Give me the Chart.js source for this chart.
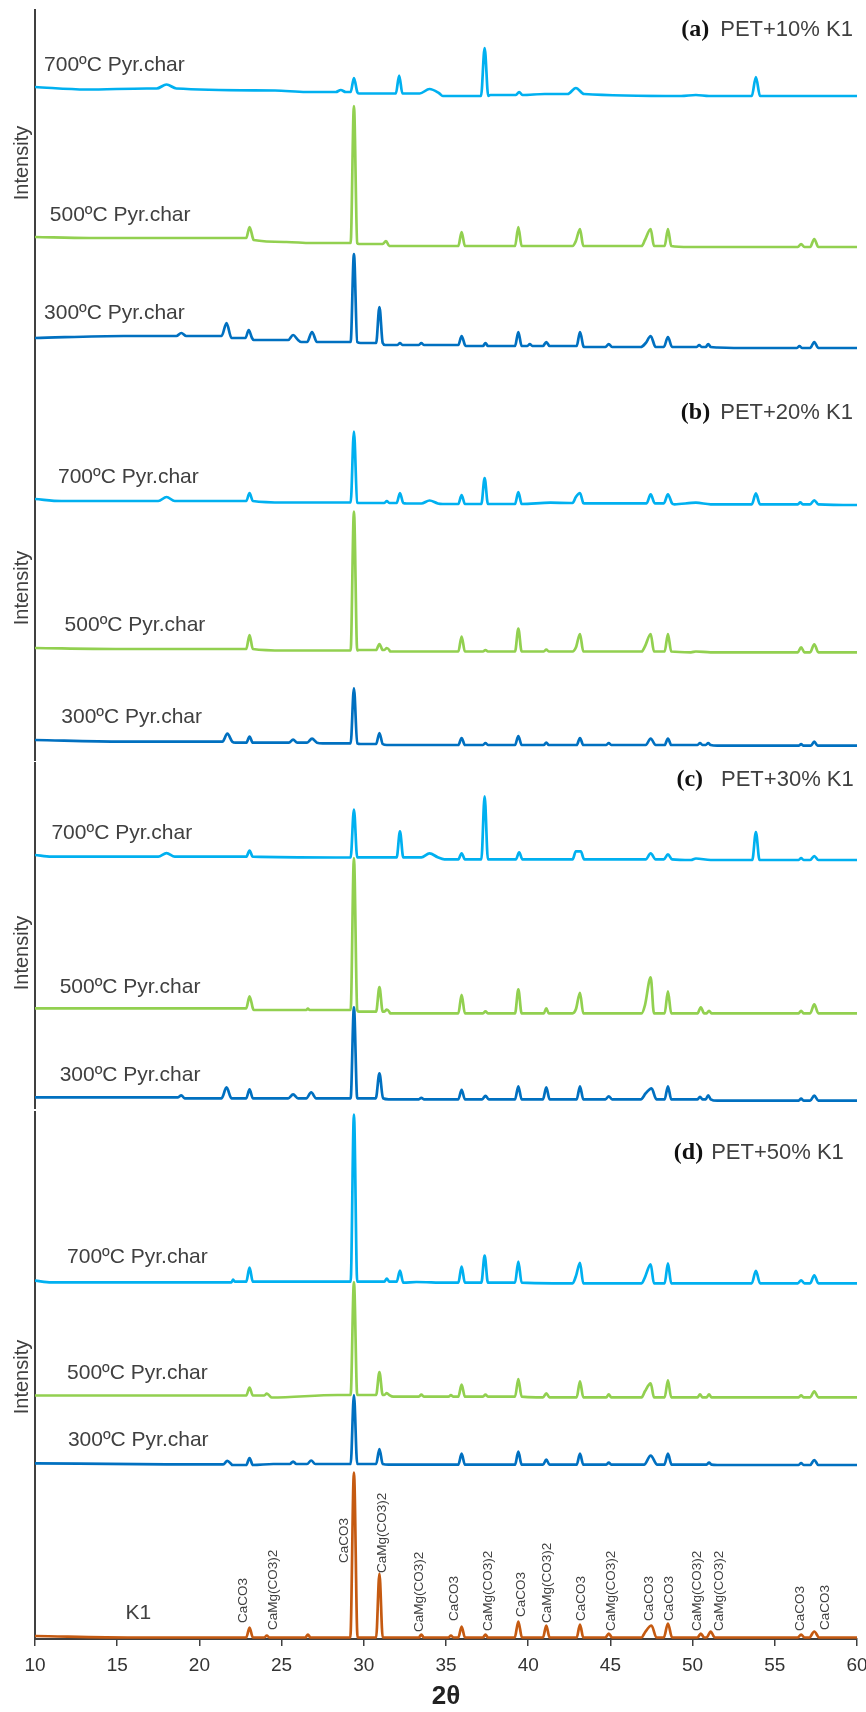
<!DOCTYPE html>
<html>
<head>
<meta charset="utf-8">
<script src="https://cdn.jsdelivr.net/npm/chart.js@4.4.0/dist/chart.umd.min.js"></script>
<style>
  body { margin: 0; background: #fff; }
  #fig { position: relative; width: 866px; height: 1712px; background: #fff; }
  #fig canvas { position: absolute; left: 0; }
</style>
</head>
<body>
<div id="fig">
  <canvas id="pa" width="866" height="386" style="top:0px"></canvas>
  <canvas id="pb" width="866" height="376" style="top:386px"></canvas>
  <canvas id="pc" width="866" height="348" style="top:762px"></canvas>
  <canvas id="pd" width="866" height="602" style="top:1110px"></canvas>
</div>
<script>
// x axis (2θ) ticks
const xTicks = [10, 15, 20, 25, 30, 35, 40, 45, 50, 55, 60];

// every trace: baseline knots [2θ, intensity] and peaks [2θ, height above baseline, half width]
// (a) PET+10% K1
const a700Base = [[10,298],[13.1,295.5],[16.8,296.5],[24.6,294.5],[26.5,293],[29.7,291.5],[34.8,289],[37.7,290],[41,291],[49.3,289],[50.2,290],[51,289],[60,289]];
const a700Peaks = [[18,4,0.6],[28.6,2,0.3],[29.4,14,0.2],[32.15,18,0.2],[34,4.5,0.6],[37.35,48,0.22],[39.45,3,0.2],[42.9,6,0.5],[53.85,19,0.25]];
const a500Base = [[10,148],[13.3,147],[23.3,145],[25.3,143],[26.8,142],[29.7,141],[31.5,139],[49.8,138],[60,138]];
const a500Peaks = [[23.05,11,0.2],[29.4,137,0.2],[31.35,3,0.2],[35.95,14,0.2],[39.4,19,0.2],[42.9,5,0.2],[43.15,17,0.2],[47.1,6,0.2],[47.45,17,0.2],[48.5,17,0.2],[56.6,3,0.2],[57.4,8,0.25]];
const a300Base = [[10,47],[15.4,49],[21.3,49],[21.9,47],[23.3,45],[26.2,43],[29.8,42],[31.3,40],[36.2,39],[43.4,38],[51.5,37.5],[52.85,37],[60,37]];
const a300Peaks = [[18.9,3,0.3],[21.65,13,0.3],[23,8,0.2],[25.7,5,0.3],[26.85,10,0.3],[29.4,88,0.2],[30.95,36,0.2],[32.2,2,0.15],[33.5,2,0.15],[35.95,9,0.2],[37.4,3,0.15],[39.4,14,0.2],[40.1,2,0.15],[41.1,4,0.2],[43.15,14,0.2],[44.9,3,0.2],[47.15,4,0.3],[47.45,11,0.3],[48.5,10,0.25],[50.4,2,0.15],[50.95,3,0.15],[56.5,2,0.15],[57.4,6,0.25]];

// (b) PET+20% K1
const b700Base = [[10,261],[11.6,259],[25.2,257.5],[29.7,257],[32.6,256.5],[34.8,256],[41.35,257.3],[42.5,257],[43.4,256.7],[48.9,255.7],[50.2,257.3],[51.1,255.7],[60,255]];
const b700Peaks = [[18,4,0.5],[23.05,8,0.2],[29.4,71,0.2],[31.4,2,0.15],[32.2,10,0.2],[34,3,0.5],[35.95,9,0.2],[37.35,26,0.2],[39.4,12,0.2],[42.9,6,0.2],[43.15,10,0.2],[47.45,9,0.25],[48.5,9,0.25],[53.85,11,0.25],[56.55,2,0.15],[57.4,4,0.25]];
const b500Base = [[10,112],[14.9,111],[25.2,109.5],[29.7,110],[31.6,108.5],[49.9,107.7],[50.2,108.5],[51.1,107.7],[60,107.7]];
const b500Peaks = [[23.05,14,0.2],[29.4,139,0.2],[30.95,6,0.2],[31.4,2,0.15],[35.95,15,0.2],[37.4,1.5,0.15],[39.4,23,0.2],[41.1,2,0.15],[42.9,4,0.2],[43.15,17.5,0.2],[47.1,5,0.2],[47.45,17.5,0.2],[48.5,17.5,0.2],[56.6,5,0.2],[57.4,8,0.25]];
const b300Base = [[10,20],[15.3,18.3],[22.2,17.3],[27.5,16.7],[29.8,16],[31.4,15],[51.5,14.3],[60,14.3]];
const b300Peaks = [[21.7,8,0.3],[23.05,6,0.2],[25.7,3,0.25],[26.85,4,0.3],[29.4,55,0.2],[30.95,11,0.2],[35.95,7,0.2],[37.4,2,0.15],[39.4,9,0.2],[41.1,2.5,0.15],[43.15,7,0.2],[44.9,2,0.15],[47.45,6.5,0.3],[48.5,6.5,0.2],[50.45,2,0.15],[50.95,2,0.15],[56.6,1.5,0.15],[57.4,4,0.2]];

// (c) PET+30% K1
const c700Base = [[10,253],[11,251.3],[28.3,250.5],[29.7,250.7],[34.9,248.7],[49.9,248],[50.2,249.5],[51.1,248],[60,248]];
const c700Peaks = [[18,3.5,0.5],[23.05,6,0.2],[29.4,48,0.2],[32.2,26,0.2],[34,4,0.5],[35.95,6,0.2],[37.35,63,0.2],[39.45,7,0.2],[42.9,8,0.2],[43.2,8,0.2],[47.45,6,0.3],[48.5,5,0.25],[53.85,28,0.22],[56.6,2,0.15],[57.4,4,0.25]];
const c500Base = [[10,99.7],[23.3,98],[29.7,96.3],[31.6,94.7],[60,94.7]];
const c500Peaks = [[23.05,12,0.2],[26.6,1.5,0.1],[29.4,152,0.2],[30.95,24.5,0.2],[31.4,2,0.15],[35.95,18.5,0.2],[37.4,2,0.15],[39.4,24,0.2],[41.1,5,0.15],[42.9,4,0.2],[43.15,20.5,0.2],[47.1,8,0.2],[47.45,36,0.2],[48.5,22,0.2],[50.5,6,0.2],[51,2.5,0.15],[56.6,2.5,0.15],[57.4,9,0.25]];
const c300Base = [[10,10.7],[19,9.7],[31.5,8.7],[51.5,7.3],[60,7.3]];
const c300Peaks = [[18.9,2,0.2],[21.65,11,0.3],[23.05,9,0.2],[25.7,4,0.3],[26.8,6,0.3],[29.4,91,0.2],[30.95,25,0.22],[33.5,1.5,0.15],[35.95,9.5,0.2],[37.4,3.5,0.2],[39.4,13,0.2],[41.1,12,0.2],[43.15,13,0.2],[44.9,3,0.2],[47.15,6,0.3],[47.5,11,0.3],[48.5,13,0.2],[50.45,2.5,0.15],[50.95,4,0.15],[56.6,2,0.15],[57.4,5,0.25]];

// (d) PET+50% K1 and raw K1
const d700Base = [[10,358.3],[11,356.7],[22,357.3],[32.4,356.3],[33.2,357],[35,356.3],[41.5,355.7],[60,355.7]];
const d700Peaks = [[22.05,2,0.1],[23.05,14,0.2],[29.4,167,0.2],[31.4,3,0.15],[32.2,11,0.2],[35.95,16,0.2],[37.35,27,0.2],[39.4,21,0.2],[42.9,7,0.2],[43.15,20.5,0.2],[47.1,6,0.2],[47.45,19,0.2],[48.5,20,0.2],[53.85,12.5,0.25],[56.6,3,0.2],[57.4,8,0.25]];
const d500Base = [[10,243.5],[24.4,241.5],[28.4,244],[29.9,244],[31.8,242.3],[40.5,241.7],[60,241.7]];
const d500Peaks = [[23.05,8,0.2],[24.1,2,0.15],[29.4,113,0.2],[30.95,23,0.2],[31.4,2,0.15],[33.5,2,0.15],[35.3,1.5,0.15],[35.95,12,0.2],[37.4,2,0.15],[39.4,17.5,0.2],[41.1,4,0.2],[43.15,16,0.2],[44.9,3,0.15],[47.1,6,0.2],[47.45,14,0.2],[48.5,17,0.2],[50.45,3,0.15],[51,3,0.15],[56.6,2,0.15],[57.4,6,0.25]];
const d300Base = [[10,175.7],[18,174.7],[22,174],[24.5,175],[29.7,175],[31.5,174.3],[51.5,174],[60,174]];
const d300Peaks = [[21.7,3.5,0.25],[23.05,7,0.2],[25.7,2.5,0.2],[26.8,3.5,0.25],[29.4,69,0.2],[30.95,15,0.2],[35.95,11,0.2],[39.4,13,0.2],[41.1,5,0.2],[43.15,11,0.2],[44.9,2,0.15],[47.45,9,0.4],[48.5,11,0.22],[51,2,0.15],[56.6,2,0.15],[57.4,5,0.25]];
const k1Base = [[10,3],[16,1.5],[60,1.5]];
const k1Peaks = [[23.05,10,0.2],[24.1,2,0.15],[26.6,3,0.15],[29.4,165,0.22],[30.95,64,0.2],[33.5,3,0.15],[35.3,2,0.15],[35.95,11,0.2],[37.4,3,0.15],[39.4,16,0.22],[41.1,12,0.2],[43.15,13,0.2],[44.9,4,0.2],[47.1,5,0.2],[47.5,12,0.3],[48.5,14,0.25],[50.5,4,0.2],[51.1,6,0.25],[56.6,3,0.2],[57.4,6,0.3]];

// phase labels over the K1 peaks [text, 2θ, intensity at label foot]
const k1Notes = [['CaCO3',22.65,16],['CaMg(CO3)2',24.48,9],['CaCO3',28.8,76],['CaMg(CO3)2',31.1,66],['CaMg(CO3)2',33.36,7],['CaCO3',35.5,18],['CaMg(CO3)2',37.55,8],['CaCO3',39.56,22],['CaMg(CO3)2',41.14,16],['CaCO3',43.2,18],['CaMg(CO3)2',45.04,8],['CaCO3',47.35,18],['CaCO3',48.56,18],['CaMg(CO3)2',50.27,8],['CaMg(CO3)2',51.6,8],['CaCO3',56.53,8],['CaCO3',58.1,9]];

const C700 = '#00B0F0', C500 = '#92D050', C300 = '#0070C0', CK1 = '#C55A11';
const SANS = '"Liberation Sans", Arial, sans-serif';

Chart.defaults.font.family = SANS;

// baseline level at 2θ (last knot at or before it)
function level(base, t) {
  let v = base[0][1];
  base.forEach(([bt, bv]) => { if (bt <= t) v = bv; });
  return v;
}

function trace(base, peaks) {
  const inPeak = (t, skip) => peaks.some(([p, , w], j) => j !== skip && t > p - w && t < p + w);
  const pts = base.filter(([t]) => !inPeak(t, -1)).map(([t, v]) => ({x: t, y: v}));
  peaks.forEach(([p, h, w], i) => {
    if (!inPeak(p - w, i)) pts.push({x: p - w, y: level(base, p - w)});
    pts.push({x: p, y: level(base, p) + h});
    if (!inPeak(p + w, i)) pts.push({x: p + w, y: level(base, p + w)});
  });
  return pts.sort((a, b) => a.x - b.x);
}

const panelText = {
  id: 'panelText',
  afterDatasetsDraw(chart, args, o) {
    const {ctx, chartArea, scales: {x, y}} = chart;
    ctx.save();
    ctx.fillStyle = '#404040';
    ctx.textBaseline = 'middle';

    // rotated "Intensity"
    ctx.save();
    ctx.translate(chartArea.left - 13, y.getPixelForValue(o.intensityAt));
    ctx.rotate(-Math.PI / 2);
    ctx.textAlign = 'center';
    ctx.font = '20px ' + SANS;
    ctx.fillText('Intensity', 0, 0);
    ctx.restore();

    // trace labels
    ctx.textAlign = 'left';
    ctx.font = '21px ' + SANS;
    o.labels.forEach(([t, tx, ty]) => ctx.fillText(t, x.getPixelForValue(tx), y.getPixelForValue(ty)));

    // panel title: bold serif letter + sans text
    const [tag, txt, tx, ty, gap] = o.title;
    const rx = x.getPixelForValue(tx), ry = y.getPixelForValue(ty);
    ctx.textAlign = 'right';
    ctx.font = '22px ' + SANS;
    ctx.fillText(txt, rx, ry);
    const w = ctx.measureText(txt).width;
    ctx.fillStyle = '#111';
    ctx.font = 'bold 24px "Liberation Serif", "Times New Roman", serif';
    ctx.fillText(tag, rx - w - gap, ry);

    // vertical phase notes
    ctx.fillStyle = '#404040';
    ctx.font = '13.5px ' + SANS;
    ctx.textAlign = 'left';
    (o.notes || []).forEach(([t, tx, ty]) => {
      ctx.save();
      ctx.translate(x.getPixelForValue(tx), y.getPixelForValue(ty));
      ctx.rotate(-Math.PI / 2);
      ctx.fillText(t, 0, 0);
      ctx.restore();
    });
    ctx.restore();
  }
};

function makePanel(id, p) {
  return new Chart(document.getElementById(id), {
    type: 'line',
    data: {
      datasets: p.series.map(([base, peaks, color]) => ({
        data: trace(base, peaks),
        borderColor: color,
        borderWidth: 2.7,
        borderJoinStyle: 'round',
        cubicInterpolationMode: 'monotone',
        pointRadius: 0,
        fill: false
      }))
    },
    options: {
      responsive: false,
      animation: false,
      events: [],
      layout: {padding: {top: p.padTop, bottom: p.padBottom, left: 0, right: 9}},
      plugins: {
        legend: {display: false},
        tooltip: {enabled: false},
        panelText: {labels: p.labels, title: p.title, intensityAt: p.intensityAt, notes: p.notes}
      },
      scales: {
        x: {
          type: 'linear', min: 10, max: 60,
          display: p.showX,
          afterBuildTicks: s => { s.ticks = xTicks.map(v => ({value: v})); },
          afterFit: s => {
            if (!p.showX) { s.height = 0; return; }
            s.height = 73; s.paddingLeft = 0; s.paddingRight = 0;
          },
          grid: {display: true, drawOnChartArea: false, drawTicks: true, tickLength: 7, color: '#404040', lineWidth: 1.5},
          border: {display: true, color: '#404040', width: 2},
          ticks: {color: '#333', font: {size: 19}, padding: 8, maxRotation: 0, autoSkip: false},
          title: {display: true, text: '2θ', color: '#222', font: {size: 26, weight: 'bold'}, padding: 0}
        },
        y: {
          min: 0, max: p.yMax,
          afterFit: s => { s.width = 35; },
          ticks: {display: false},
          grid: {display: false},
          border: {display: true, color: '#404040', width: 2}
        }
      }
    },
    plugins: [panelText]
  });
}

makePanel('pa', {
  padTop: 10, padBottom: 1, yMax: 375, showX: false, intensityAt: 222,
  series: [[a700Base, a700Peaks, C700], [a500Base, a500Peaks, C500], [a300Base, a300Peaks, C300]],
  labels: [['700ºC Pyr.char', 10.55, 320], ['500ºC Pyr.char', 10.9, 170], ['300ºC Pyr.char', 10.55, 72]],
  title: ['(a)', 'PET+10% K1', 59.75, 355, 11]
});
makePanel('pb', {
  padTop: 1, padBottom: 2, yMax: 373, showX: false, intensityAt: 172,
  series: [[b700Base, b700Peaks, C700], [b500Base, b500Peaks, C500], [b300Base, b300Peaks, C300]],
  labels: [['700ºC Pyr.char', 11.4, 283], ['500ºC Pyr.char', 11.8, 135], ['300ºC Pyr.char', 11.6, 43]],
  title: ['(b)', 'PET+20% K1', 59.75, 347, 10]
});
makePanel('pc', {
  padTop: 0, padBottom: 2, yMax: 346, showX: false, intensityAt: 155,
  series: [[c700Base, c700Peaks, C700], [c500Base, c500Peaks, C500], [c300Base, c300Peaks, C300]],
  labels: [['700ºC Pyr.char', 11.0, 275], ['500ºC Pyr.char', 11.5, 121], ['300ºC Pyr.char', 11.5, 33]],
  title: ['(c)', 'PET+30% K1', 59.8, 328, 18]
});
makePanel('pd', {
  padTop: 2, padBottom: 0, yMax: 527, showX: true, intensityAt: 262,
  series: [[d700Base, d700Peaks, C700], [d500Base, d500Peaks, C500], [d300Base, d300Peaks, C300], [k1Base, k1Peaks, CK1]],
  labels: [['700ºC Pyr.char', 11.95, 382], ['500ºC Pyr.char', 11.95, 266], ['300ºC Pyr.char', 12.0, 199], ['K1', 15.5, 26]],
  title: ['(d)', 'PET+50% K1', 59.2, 486, 8],
  notes: k1Notes
});
</script>
</body>
</html>
